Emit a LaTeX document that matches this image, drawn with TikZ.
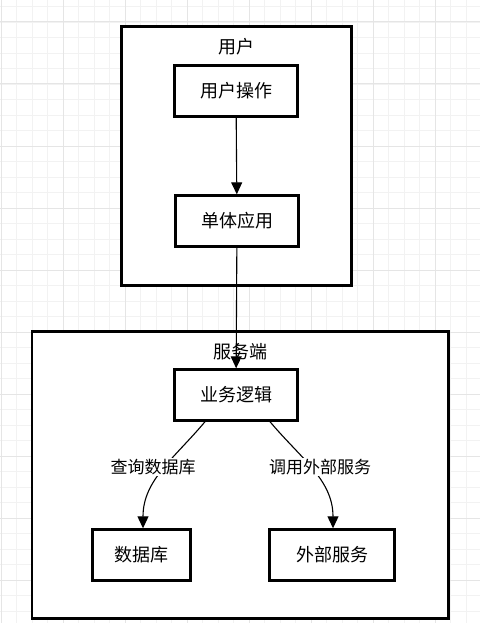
\documentclass[tikz,border=0pt]{standalone}
\usepackage{fontspec}
\setmainfont{Noto Sans CJK SC}
\usepackage{tikz}
\usetikzlibrary{positioning,arrows.meta}

\tikzset{
  frame/.style={draw, rectangle, line width=2.6pt},
  box/.style={draw, rectangle, fill=white, line width=2.4pt, minimum width=123pt, minimum height=51pt, font=\fontsize{18}{21}\selectfont},
  title/.style={font=\fontsize{18}{21}\selectfont},
  lbl/.style={fill=white, inner sep=1pt, font=\fontsize{17}{20}\selectfont},
  flow/.style={line width=1.1pt, -{Triangle[length=12pt,width=11pt]}}
}

\begin{document}
\begin{tikzpicture}[x=1pt,y=1pt]
  \useasboundingbox (0,0) rectangle (480,-623);
  \fill[white] (0,0) rectangle (480,-623);
  \draw[black!5, line width=0.8pt, step=15.5pt, shift={(1,-22)}] (-1,22) grid (479,-601);
  \draw[black!10, line width=1pt, step=62pt, shift={(1,-22)}] (-1,22) grid (479,-601);

  \node[frame, fill=white, minimum width=230pt, minimum height=259pt] (userframe) at (236.5,-156) {};
  \node[frame, fill=white, minimum width=416.5pt, minimum height=287pt] (serverframe) at (240.25,-475) {};

  \node[title] (usertitle) at (236,-47) {用户};
  \node[box] (op) at (236,-91) {用户操作};
  \node[box] (app) at (237,-221) {单体应用};

  \node[title] (servertitle) at (240,-352) {服务端};
  \node[box] (logic) at (236,-395) {业务逻辑};
  \node[box, minimum width=98pt] (db) at (141.5,-555) {数据库};
  \node[box, minimum width=125pt] (ext) at (332,-555) {外部服务};

  \draw[flow] (op) -- (app);
  \draw[flow] (app) -- (logic);
  \draw[flow] ([xshift=-31pt]logic.south) to[out=-130, in=90] ([xshift=1.5pt]db.north);
  \draw[flow] ([xshift=34pt]logic.south) to[out=-50, in=90] ([xshift=1pt]ext.north);

  \node[lbl] (query) at (153,-467) {查询数据库};
  \node[lbl] (call) at (320,-467) {调用外部服务};
\end{tikzpicture}
\end{document}
